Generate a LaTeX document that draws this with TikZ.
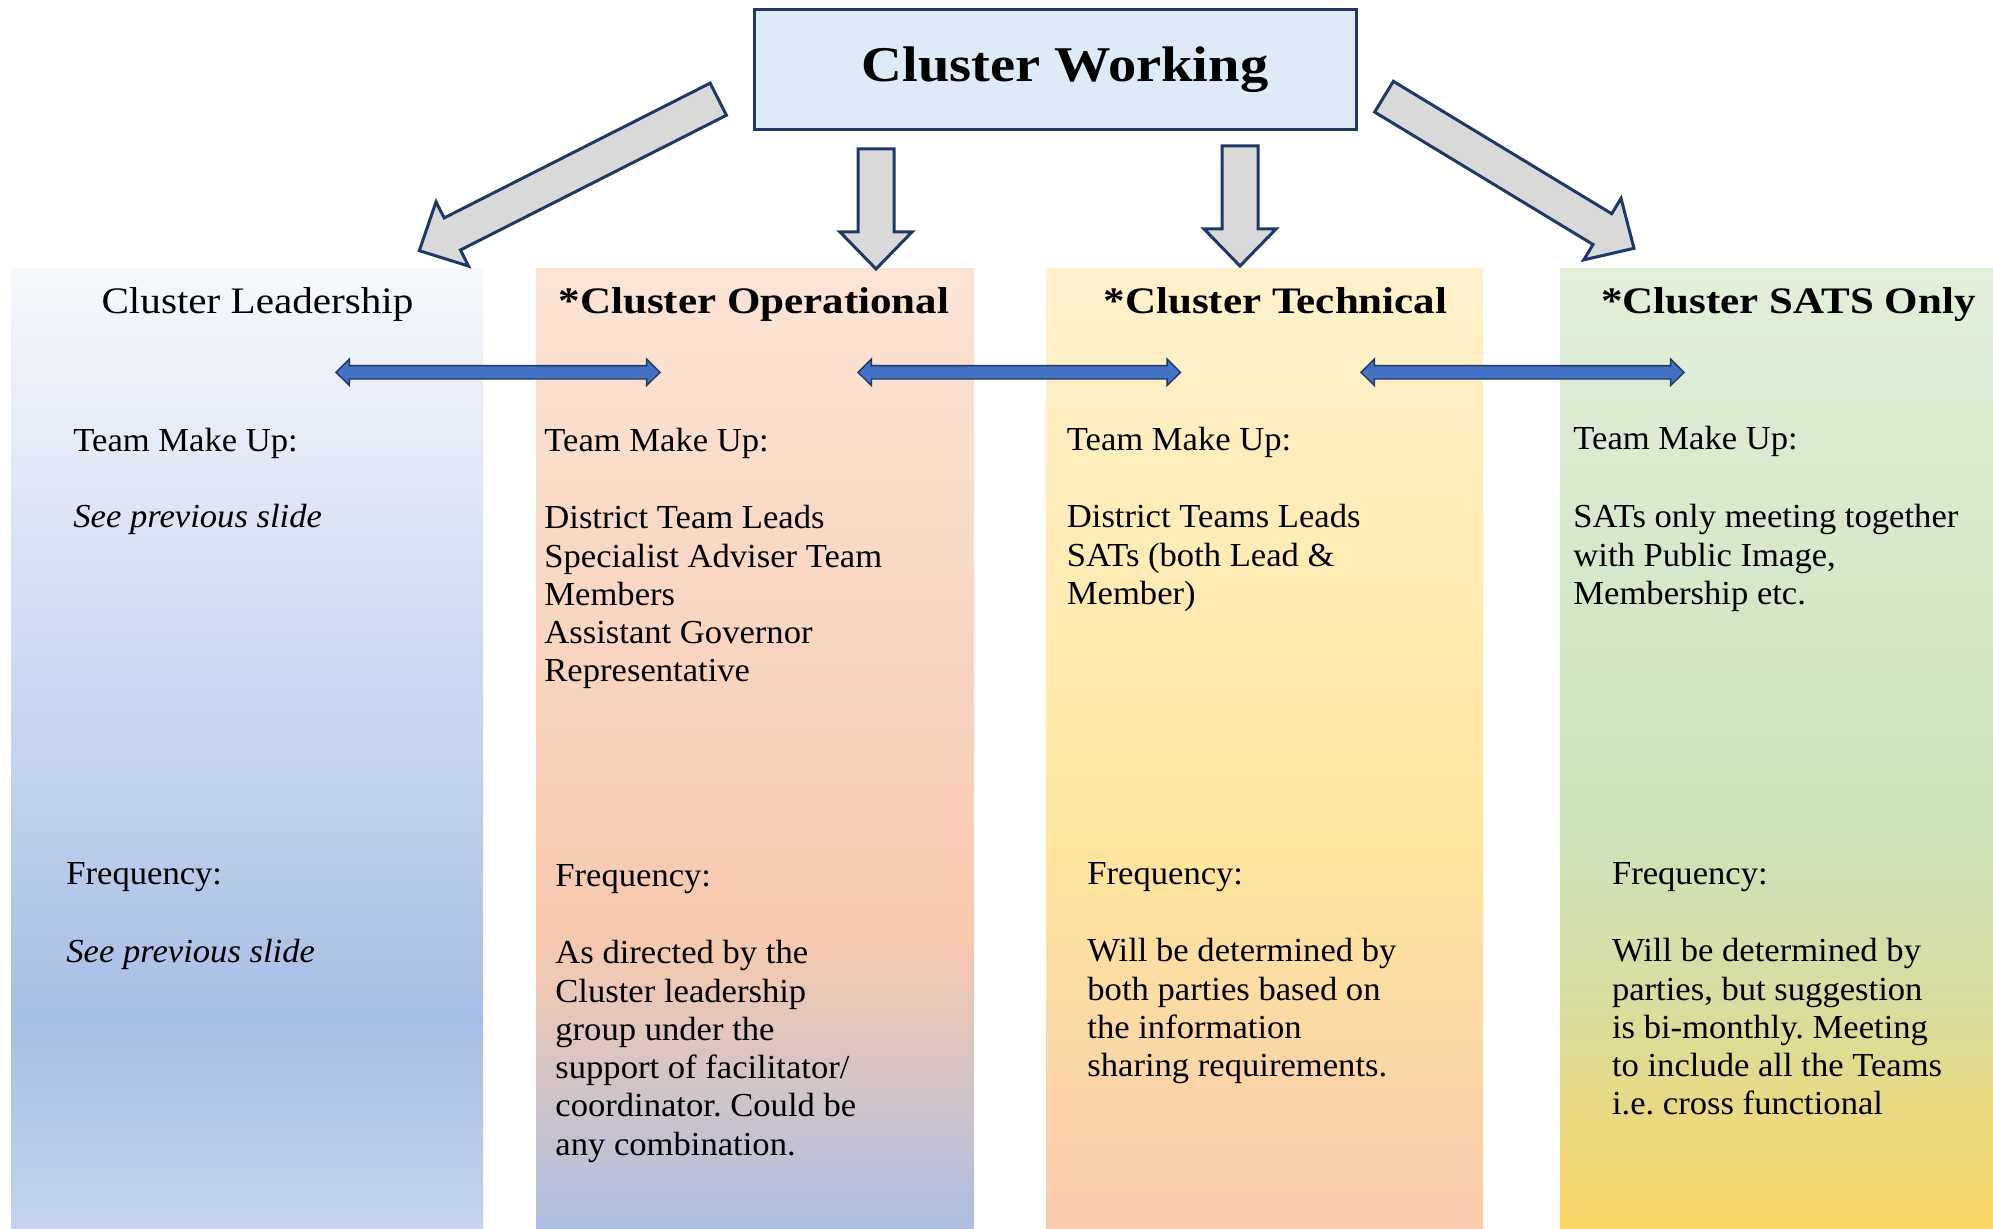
\documentclass[tikz,border=0pt]{standalone}
\usepackage{fontspec}
\setmainfont{Liberation Serif}[FakeStretch=1.03]
\newfontfamily\headfont{Liberation Serif}[FakeStretch=1.1]
\newfontfamily\boldheadfont{Liberation Serif}[FakeStretch=1.15]
\newfontfamily\titlefont{Liberation Serif}[FakeStretch=1.13]
\frenchspacing
\usetikzlibrary{calc}
\definecolor{navy}{HTML}{1F3864}
\definecolor{boxblue}{HTML}{DEEBF7}
\definecolor{arrowgray}{HTML}{D9D9D9}
\definecolor{linkblue}{HTML}{4472C4}
\definecolor{leadA}{HTML}{F6F8FC}
\definecolor{leadB}{HTML}{A9BEE5}
\definecolor{leadC}{HTML}{C4D2EE}
\definecolor{operA}{HTML}{FBE4D6}
\definecolor{operB}{HTML}{F7C9AD}
\definecolor{operC}{HTML}{AEBFE2}
\definecolor{techA}{HTML}{FFF2CC}
\definecolor{techB}{HTML}{FFE59E}
\definecolor{techC}{HTML}{F8CBAD}
\definecolor{satsA}{HTML}{E2EFDA}
\definecolor{satsB}{HTML}{CCE3BF}
\definecolor{satsC}{HTML}{D8DDA0}
\definecolor{satsD}{HTML}{FAD764}
\pgfdeclareverticalshading{leadshade}{100bp}{color(0bp)=(leadC); color(25bp)=(leadC); color(36bp)=(leadB); color(75bp)=(leadA); color(100bp)=(leadA)}
\pgfdeclareverticalshading{opershade}{100bp}{color(0bp)=(operC); color(25bp)=(operC); color(40bp)=(operB); color(75bp)=(operA); color(100bp)=(operA)}
\pgfdeclareverticalshading{techshade}{100bp}{color(0bp)=(techC); color(25bp)=(techC); color(45bp)=(techB); color(75bp)=(techA); color(100bp)=(techA)}
\pgfdeclareverticalshading{satsshade}{100bp}{color(0bp)=(satsD); color(25bp)=(satsD); color(37bp)=(satsC); color(47bp)=(satsB); color(75bp)=(satsA); color(100bp)=(satsA)}
\newcommand{\drawblockarrow}[2]{
    \coordinate (hb) at ($(#2)!18.5pt!(#1)$);
    \draw [line width=1.5pt, draw=navy, fill=arrowgray]
        ($(#1)!9pt!90:(#2)$) -- ($(hb)!9pt!-90:(#1)$) -- ($(hb)!18pt!-90:(#1)$) -- (#2)
        -- ($(hb)!18pt!90:(#1)$) -- ($(hb)!9pt!90:(#1)$) -- ($(#1)!9pt!-90:(#2)$) -- cycle;
}
\newcommand{\drawdoublearrow}[2]{
    \draw [line width=0.7pt, draw=navy, fill=linkblue]
        (#1) -- ($(#1)+(13.4,-13.3)$) -- ($(#1)+(13.4,-6.7)$) -- ($(#2)+(-13.4,-6.7)$)
        -- ($(#2)+(-13.4,-13.3)$) -- (#2) -- ($(#2)+(-13.4,13.3)$) -- ($(#2)+(-13.4,6.7)$)
        -- ($(#1)+(13.4,6.7)$) -- ($(#1)+(13.4,13.3)$) -- cycle;
}
\tikzset{
    bodytext/.style={anchor=north west, inner sep=0pt, align=left, font=\fontsize{16.8}{19.15}\selectfont},
    bodyline/.style={anchor=base west, inner sep=0pt, font=\fontsize{16.8}{19.15}\selectfont},
    headline/.style={anchor=base, inner sep=0pt, font=\headfont\fontsize{18.7}{22}\selectfont},
    boldheadline/.style={anchor=base, inner sep=0pt, font=\boldheadfont\bfseries\fontsize{18.7}{22}\selectfont},
}

\begin{document}
\begin{tikzpicture}[x=0.5pt, y=-0.5pt]
    \useasboundingbox (0,0) rectangle (1993,1229);
    % columns
    \shade [shading=leadshade] (11.5,269) rectangle (483,1229);
    \shade [shading=opershade] (536,269) rectangle (974,1229);
    \shade [shading=techshade] (1046,269) rectangle (1483,1229);
    \shade [shading=satsshade] (1560,269) rectangle (1993,1229);
    % title
    \draw [line width=1.5pt, draw=navy, fill=boxblue] (754,10) rectangle (1356,130);
    \node (CW) [inner sep=0pt, font=\titlefont\bfseries\fontsize{25}{30}\selectfont] at (1065,70) {Cluster Working};
    % block arrows
    \coordinate (LeadTail) at (718.3,99.2);
    \coordinate (LeadTip)  at (419.3,250.7);
    \coordinate (OperTail) at (876,149);
    \coordinate (OperTip)  at (876,269);
    \coordinate (TechTail) at (1240,146);
    \coordinate (TechTip)  at (1240,266);
    \coordinate (SatsTail) at (1384,96.7);
    \coordinate (SatsTip)  at (1634,248.3);
    \drawblockarrow{LeadTail}{LeadTip};
    \drawblockarrow{OperTail}{OperTip};
    \drawblockarrow{TechTail}{TechTip};
    \drawblockarrow{SatsTail}{SatsTip};
    % headers
    \node (Lead) [headline] at (257.5,314) {Cluster Leadership};
    \node (Oper) [boldheadline] at (754,314) {*Cluster Operational};
    \node (Tech) [boldheadline] at (1275.5,314) {*Cluster Technical};
    \node (Sats) [boldheadline] at (1788.5,314) {*Cluster SATS Only};
    % links
    \coordinate (LO-l) at (336,372.3);
    \coordinate (LO-r) at (660,372.3);
    \coordinate (OT-l) at (858,372.3);
    \coordinate (OT-r) at (1180.5,372.3);
    \coordinate (TS-l) at (1361,372.3);
    \coordinate (TS-r) at (1684,372.3);
    \drawdoublearrow{LO-l}{LO-r};
    \drawdoublearrow{OT-l}{OT-r};
    \drawdoublearrow{TS-l}{TS-r};
    % team make up
    \node (LeadTeam) [bodyline] at (73,452) {Team Make Up:};
    \node (LeadTeamList) [bodyline] at (73,528) {\itshape See previous slide};
    \node (OperTeam) [bodyline] at (544,452) {Team Make Up:};
    \node (OperTeamList) [bodytext] at (544,505) {District Team Leads\\Specialist Adviser Team\\Members\\Assistant Governor\\Representative};
    \node (TechTeam) [bodyline] at (1066.5,451) {Team Make Up:};
    \node (TechTeamList) [bodytext] at (1066.5,504) {District Teams Leads\\SATs (both Lead \&\\Member)};
    \node (SatsTeam) [bodyline] at (1573,450) {Team Make Up:};
    \node (SatsTeamList) [bodytext] at (1573,504) {SATs only meeting together\\with Public Image,\\Membership etc.};
    % frequency
    \node (LeadFreq) [bodyline] at (66,884) {Frequency:};
    \node (LeadFreqText) [bodyline] at (66,962) {\itshape See previous slide};
    \node (OperFreq) [bodyline] at (555,886) {Frequency:};
    \node (OperFreqText) [bodytext] at (555,940) {As directed by the\\Cluster leadership\\group under the\\support of facilitator/\\coordinator. Could be\\any combination.};
    \node (TechFreq) [bodyline] at (1087,884) {Frequency:};
    \node (TechFreqText) [bodytext] at (1087,938) {Will be determined by\\both parties based on\\the information\\sharing requirements.};
    \node (SatsFreq) [bodyline] at (1611.6,884) {Frequency:};
    \node (SatsFreqText) [bodytext] at (1611.6,938) {Will be determined by\\parties, but suggestion\\is bi-monthly. Meeting\\to include all the Teams\\i.e. cross functional};
\end{tikzpicture}
\end{document}
